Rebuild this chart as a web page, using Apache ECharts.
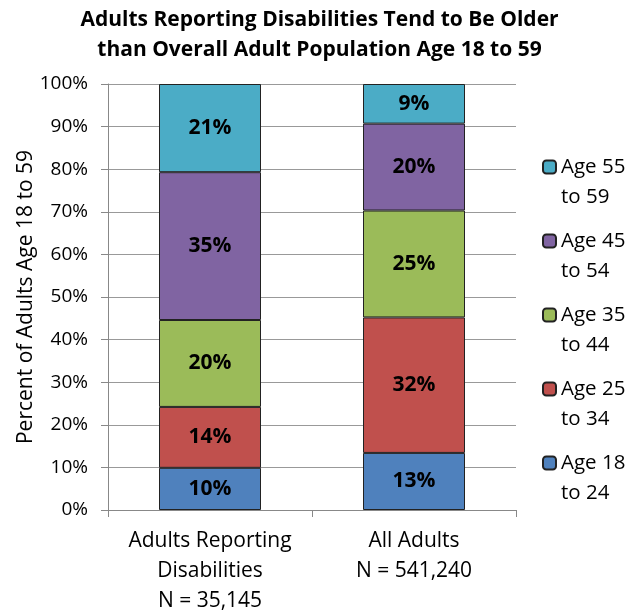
<!DOCTYPE html>
<html><head><meta charset="utf-8">
<script src="https://cdn.jsdelivr.net/npm/echarts@6/dist/echarts.min.js"></script>
<style>html,body{margin:0;padding:0;background:#fff}#c{width:639px;height:616px}</style>
</head><body><div id="c"></div>
<script>
const categories = ['Adults Reporting\nDisabilities\nN = 35,145', 'All Adults\nN = 541,240'];
const seriesNames = ['Age 18\nto 24', 'Age 25\nto 34', 'Age 35\nto 44', 'Age 45\nto 54', 'Age 55\nto 59'];
const age18to24 = [9.9, 13.4];
const age25to34 = [14.3, 31.8];
const age35to44 = [20.4, 25.1];
const age45to54 = [34.7, 20.4];
const age55to59 = [20.7, 9.3];
const colors = ['#4F81BD', '#C0504D', '#9BBB59', '#8064A2', '#4BACC6'];
const FONT = 'Open Sans';

const values = [age18to24, age25to34, age35to44, age45to54, age55to59];
const chart = echarts.init(document.getElementById('c'), null, {renderer: 'canvas'});
chart.setOption({
  animation: false,
  textStyle: {fontFamily: FONT},
  title: {
    text: 'Adults Reporting Disabilities Tend to Be Older\nthan Overall Adult Population Age 18 to 59',
    left: 'center', top: 0,
    textStyle: {fontFamily: FONT, fontSize: 21, fontWeight: 'bold', color: '#000', lineHeight: 30}
  },
  legend: {
    orient: 'vertical', left: 537, top: 117,
    data: seriesNames.slice().reverse(),
    formatter: n => ' \n' + n,
    itemWidth: 13, itemHeight: 13, itemGap: -16,
    textStyle: {fontFamily: FONT, fontSize: 20.5, color: '#000', lineHeight: 30}
  },
  grid: {left: 108, right: 123, top: 84, bottom: 103},
  xAxis: {
    type: 'category', data: categories,
    axisLine: {lineStyle: {color: '#888'}},
    axisTick: {show: true, length: 7, lineStyle: {color: '#888'}},
    axisLabel: {interval: 0, hideOverlap: false, color: '#000', fontSize: 21, lineHeight: 30, margin: 16, fontFamily: FONT}
  },
  yAxis: {
    type: 'value', min: 0, max: 100, interval: 10,
    name: 'Percent of Adults Age 18 to 59', nameLocation: 'middle', nameGap: 71, nameMoveOverlap: false,
    nameTextStyle: {color: '#000', fontSize: 21, fontFamily: FONT},
    axisLine: {show: true, lineStyle: {color: '#888'}},
    axisTick: {show: true, length: 7, lineStyle: {color: '#888'}},
    axisLabel: {formatter: '{value}%', color: '#000', fontSize: 19, margin: 20, fontFamily: FONT},
    splitLine: {lineStyle: {color: '#999'}}
  },
  series: seriesNames.map((n, i) => ({
    name: n, type: 'bar', stack: 'total', data: values[i],
    barWidth: '50%',
    itemStyle: {color: colors[i], borderColor: '#222', borderWidth: 1},
    label: {show: true, position: 'inside', color: '#000', fontSize: 21, fontWeight: 'bold', fontFamily: FONT,
      formatter: p => Math.round(p.value) + '%'}
  }))
});
</script></body></html>
